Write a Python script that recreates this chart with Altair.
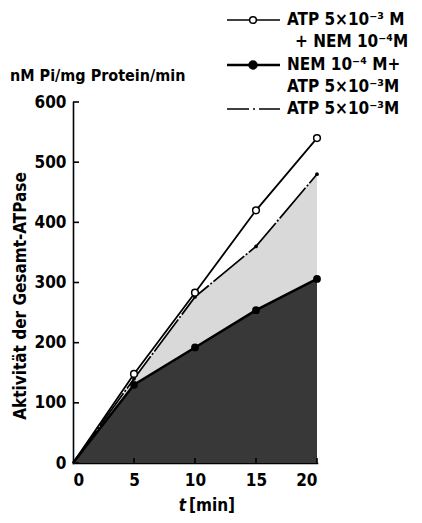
import altair as alt
import pandas as pd

# ---- data ----
t = [0, 5, 10, 15, 20]
atp_nem = [0, 148, 283, 420, 540]      # open circles: ATP 5x10^-3 M + NEM 10^-4 M
nem_atp = [0, 130, 192, 254, 306]      # filled circles: NEM 10^-4 M + ATP 5x10^-3 M
atp_only = [0, 140, 276, 360, 480]     # dash-dot: ATP 5x10^-3 M

y_ticks = [0, 100, 200, 300, 400, 500, 600]
x_ticks = [0, 5, 10, 15, 20]

FONT = "DejaVu Sans Condensed, Liberation Sans Narrow, DejaVu Sans"
W, H = 244, 361

df = pd.DataFrame({"t": t, "open": atp_nem, "filled": nem_atp, "atp": atp_only})
xs = alt.Scale(domain=[0, 20], nice=False)
ys = alt.Scale(domain=[0, 600], nice=False)

base = alt.Chart(df)

dark = base.mark_area(color="#383838", opacity=1).encode(
    x=alt.X("t:Q", scale=xs, axis=alt.Axis(title=None, values=x_ticks, ticks=False, grid=False,
                                           labelFont=FONT, labelFontSize=17, labelFontWeight="bold",
                                           labelColor="black", labelPadding=9, domainColor="black",
                                           domainWidth=1.6)),
    y=alt.Y("filled:Q", scale=ys, axis=alt.Axis(title=None, values=y_ticks, ticks=False, grid=False,
                                                labelFont=FONT, labelFontSize=17, labelFontWeight="bold",
                                                labelColor="black", labelPadding=7, domainColor="black",
                                                domainWidth=1.6)),
)
light = base.mark_area(color="#d9d9d9", opacity=1).encode(
    x=alt.X("t:Q", scale=xs), y=alt.Y("atp:Q", scale=ys), y2="filled:Q"
)
line_filled = base.mark_line(color="black", strokeWidth=2.5).encode(
    x=alt.X("t:Q", scale=xs), y=alt.Y("filled:Q", scale=ys)
)
pts_filled = base.transform_filter("datum.t > 0").mark_point(
    filled=True, color="black", size=60, opacity=1).encode(
    x=alt.X("t:Q", scale=xs), y=alt.Y("filled:Q", scale=ys)
)
line_atp = base.mark_line(color="black", strokeWidth=1.7, strokeDash=[40, 2, 2, 2]).encode(
    x=alt.X("t:Q", scale=xs), y=alt.Y("atp:Q", scale=ys)
)
pts_atp = base.transform_filter("datum.t > 0").mark_point(
    filled=True, color="black", size=14, opacity=1).encode(
    x=alt.X("t:Q", scale=xs), y=alt.Y("atp:Q", scale=ys)
)
line_open = base.mark_line(color="black", strokeWidth=1.8).encode(
    x=alt.X("t:Q", scale=xs), y=alt.Y("open:Q", scale=ys)
)
pts_open = base.transform_filter("datum.t > 0").mark_point(
    filled=True, fill="white", stroke="black", strokeWidth=1.5, size=45, opacity=1).encode(
    x=alt.X("t:Q", scale=xs), y=alt.Y("open:Q", scale=ys)
)

# inward ticks
ytick_df = pd.DataFrame({"v": y_ticks})
xtick_df = pd.DataFrame({"v": x_ticks[1:]})
yt = alt.Chart(ytick_df).mark_rule(color="black", strokeWidth=1.6).encode(
    y=alt.Y("v:Q", scale=ys), x=alt.value(0), x2=alt.value(6))
xt = alt.Chart(xtick_df).mark_rule(color="black", strokeWidth=1.6).encode(
    x=alt.X("v:Q", scale=xs), y=alt.value(H), y2=alt.value(H - 5))

def txt(s, x, y, size=16, angle=0, align="left", style="normal"):
    return alt.Chart(pd.DataFrame({"s": [s]})).mark_text(
        font=FONT, fontSize=size, fontWeight="bold", align=align, baseline="middle",
        angle=angle, fontStyle=style, color="black").encode(
        text="s:N", x=alt.value(x), y=alt.value(y))

texts = [
    txt("nM Pi/mg  Protein/min", -63, -26),
    txt("Aktivität der Gesamt-ATPase", -52, 194, size=17, angle=270, align="center"),
    txt("t", 113, 404, size=17, style="italic", align="right"),
    txt("[min]", 116, 404, size=17),
    txt("ATP 5×10⁻³ M", 214, -82, size=17),
    txt("+ NEM 10⁻⁴M", 222, -60, size=17),
    txt("NEM 10⁻⁴ M+", 214, -37, size=17),
    txt("ATP 5×10⁻³M", 214, -15, size=17),
    txt("ATP 5×10⁻³M", 214, 7, size=17),
]

# manual legend symbols
leg_rows = pd.DataFrame({"k": [0]})
leg = []
leg.append(alt.Chart(leg_rows).mark_rule(color="black", strokeWidth=1.6).encode(
    x=alt.value(154), x2=alt.value(207), y=alt.value(-82)))
leg.append(alt.Chart(leg_rows).mark_point(filled=True, fill="white", stroke="black", strokeWidth=1.5,
                                          size=45, opacity=1).encode(x=alt.value(180), y=alt.value(-82)))
leg.append(alt.Chart(leg_rows).mark_rule(color="black", strokeWidth=2.5).encode(
    x=alt.value(154), x2=alt.value(207), y=alt.value(-37)))
leg.append(alt.Chart(leg_rows).mark_point(filled=True, color="black", size=90, opacity=1).encode(
    x=alt.value(180), y=alt.value(-37)))
leg.append(alt.Chart(leg_rows).mark_rule(color="black", strokeWidth=1.6, strokeDash=[22, 4, 2, 4]).encode(
    x=alt.value(154), x2=alt.value(207), y=alt.value(7)))

chart = alt.layer(dark, light, line_filled, line_atp, pts_atp, line_open, pts_open, pts_filled,
                  yt, xt, *texts, *leg).properties(
    width=W, height=H,
    padding={"left": 65, "top": 94, "right": 97, "bottom": 52},
    autosize=alt.AutoSizeParams(type="none"),
).configure_view(stroke=None).configure_axis(domainCap="square")

chart.save("out.html", embed_options={"renderer": "svg", "actions": False})
